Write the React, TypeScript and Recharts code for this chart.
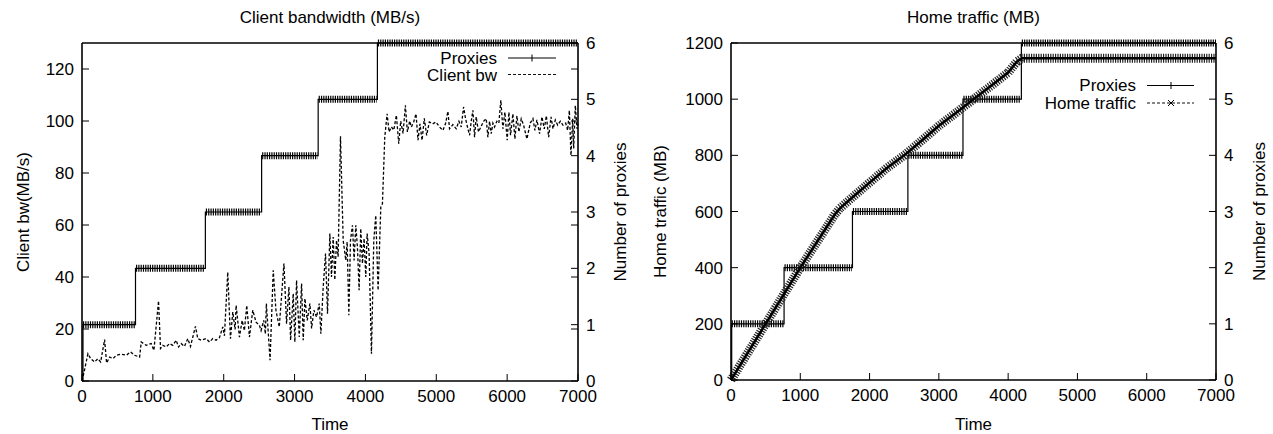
import React from 'react';
import { ComposedChart, Line, XAxis, YAxis, Customized } from 'recharts';

// ─── Data ─────────────────────────────────────────────────────────────────────

const timeTicks = [0, 1000, 2000, 3000, 4000, 5000, 6000, 7000];
const bwTicks = [0, 20, 40, 60, 80, 100, 120];
const trafficTicks = [0, 200, 400, 600, 800, 1000, 1200];
const proxyTicks = [0, 1, 2, 3, 4, 5, 6];

// left panel: number of proxies (step changes) and the marker runs on each level
const bwProxyTimes = [0, 14, 755, 1741, 2535, 3333, 4169, 7000];
const bwProxyCounts = [0, 1, 2, 3, 4, 5, 6, 6];
const bwRunStart = [14, 762, 1748, 2542, 3340, 4176];
const bwRunEnd = [745, 1735, 2528, 3326, 4160, 7000];
const bwRunLevel = [1, 2, 3, 4, 5, 6];

// left panel: client bandwidth (MB/s)
const bwTimes = [
  0, 10, 84, 122, 178, 225, 263, 319, 347, 390, 437, 484, 554, 625, 686, 742, 813, 836, 907, 977,
  1015, 1080, 1108, 1141, 1188, 1235, 1282, 1329, 1362, 1399, 1446, 1493, 1531, 1601, 1634, 1681,
  1752, 1799, 1846, 1893, 1940, 1987, 2010, 2057, 2095, 2128, 2161, 2175, 2222, 2260, 2292, 2325,
  2363, 2410, 2457, 2504, 2527, 2565, 2588, 2602, 2654, 2699, 2737, 2784, 2850, 2887, 2920, 2944,
  2981, 3004, 3028, 3066, 3099, 3122, 3146, 3179, 3216, 3240, 3273, 3310, 3348, 3371, 3404, 3437,
  3465, 3498, 3521, 3545, 3568, 3592, 3615, 3648, 3686, 3723, 3742, 3766, 3789, 3817, 3840, 3864,
  3887, 3911, 3934, 3958, 3981, 4005, 4024, 4052, 4085, 4118, 4146, 4179, 4217, 4240, 4273, 4306,
  4334, 4367, 4400, 4437, 4470, 4498, 4531, 4564, 4592, 4625, 4648, 4681, 4714, 4742, 4770, 4799,
  4831, 4864, 4902, 4949, 4996, 5046, 5093, 5131, 5164, 5187, 5234, 5281, 5319, 5352, 5385, 5413,
  5446, 5470, 5493, 5517, 5540, 5563, 5596, 5629, 5667, 5705, 5728, 5752, 5775, 5799, 5822, 5855,
  5883, 5911, 5940, 5968, 6001, 6025, 6048, 6081, 6110, 6138, 6166, 6199, 6232, 6279, 6326, 6364,
  6392, 6420, 6458, 6491, 6524, 6553, 6586, 6619, 6647, 6680, 6713, 6751, 6788, 6826, 6854, 6878,
  6901, 6925, 6939, 6962, 6986, 7000,
];
const bwValues = [
  0, 1, 10.5, 8.6, 7.3, 8.6, 7.3, 15.9, 6.9, 9.2, 8.6, 9.9, 10.3, 9.9, 11.2, 9.9, 9.2, 15, 13.7, 14.4,
  11.8, 30.8, 12.5, 13.7, 13.1, 14.4, 13.7, 15.7, 13.1, 14.4, 13.3, 16.3, 13.3, 21, 16.3, 15.7,
  16.3, 15, 16.3, 15.7, 16.7, 20.8, 17.4, 41.9, 16.3, 26.5, 19.8, 29.1, 16.9, 23.3, 19.4, 29.1,
  16.9, 27.2, 22.6, 21.4, 19.4, 23.3, 18.1, 29.8, 8, 42.6, 27.2, 20.8, 45.2, 22, 36.2, 15.7,
  33.6, 15, 38.7, 16.9, 37.5, 15.7, 31.7, 23.3, 29.8, 20.2, 27.2, 24.6, 29.8, 18.2, 36.2, 49,
  25.9, 56.7, 40, 55.4, 38.9, 54.1, 47.8, 94.1, 54.1, 46.4, 53.5, 25.3, 54.1, 59.9, 46.4, 59.9,
  51.5, 34.9, 58.6, 45.2, 54.8, 40, 56.7, 49, 10.5, 54.1, 63.7, 34.9, 66.9, 68.2, 93.8, 102.8,
  95.8, 97.7, 96.5, 102.2, 91.3, 100, 95.2, 106, 95.8, 100, 97.7, 99.6, 102.8, 92.6, 98.9, 92.6,
  101, 94.5, 99.6, 98.9, 99.6, 97.7, 96.4, 99, 103.7, 97, 98.6, 97, 99.9, 97.7, 105.4, 100.9,
  97, 94.5, 99.9, 104.1, 93.8, 101.6, 95.8, 97.7, 99.9, 100.9, 93.8, 99.9, 95.1, 99.2, 97.7, 99.9,
  99.2, 108, 97, 103.4, 92.6, 103.4, 94.5, 102.8, 93.1, 102, 95.8, 100.9, 98.4, 93.1, 99.2, 100.9,
  96.4, 100.4, 95.1, 101.6, 97, 102, 93.8, 101.6, 97, 100.4, 98.4, 99.9, 98.4, 99.2, 96.4, 104.1,
  86.8, 100.9, 89.4, 106, 97, 99,
];

// right panel: number of proxies (step changes) and the marker runs on each level
const htProxyTimes = [0, 10, 766, 1753, 2553, 3348, 4191, 7000];
const htProxyCounts = [0, 1, 2, 3, 4, 5, 6, 6];
const htRunStart = [10, 772, 1759, 2559, 3354, 4197];
const htRunEnd = [758, 1745, 2545, 3340, 4183, 7000];
const htRunLevel = [1, 2, 3, 4, 5, 6];

// right panel: cumulative home traffic (MB)
const trafficTimes = [0, 250, 500, 750, 1000, 1250, 1500, 1575, 1750, 2000, 2250, 2500, 2750, 3000, 3250, 3500, 3750, 4000, 4128, 4200, 7000];
const trafficValues = [0, 100, 200, 300, 400, 495, 590, 612, 650, 703, 755, 800, 852, 905, 952, 1000, 1047, 1095, 1134, 1146, 1146];

// ─── Helpers ──────────────────────────────────────────────────────────────────

const FONT = '"Liberation Sans", Arial, Helvetica, sans-serif';
const FS = 17;
const TICK = 7;

const steps = (times: number[], counts: number[]) => times.map((t, i) => ({ t, p: counts[i] }));

const runs = (start: number[], end: number[], level: number[]) =>
  start.flatMap((s, i) => [
    { t: s, p: level[i] },
    { t: end[i], p: level[i] },
    { t: end[i], p: null },
  ]);

const bwProxyData = steps(bwProxyTimes, bwProxyCounts);
const bwRunData = runs(bwRunStart, bwRunEnd, bwRunLevel);
const bwData = bwTimes.map((t, i) => ({ t, v: bwValues[i] }));
const htProxyData = steps(htProxyTimes, htProxyCounts);
const htRunData = runs(htRunStart, htRunEnd, htRunLevel);
const trafficData = trafficTimes.map((t, i) => ({ t, v: trafficValues[i] }));

// left-axis ticks are mirrored on the right border of the bandwidth panel
const bwRightTicks = [...proxyTicks, ...bwTicks.filter((v) => v > 0).map((v) => (v * 6) / 130)];

// ─── Tick renderers (gnuplot style: ticks point inward) ───────────────────────

const LeftTick = ({ x, y, payload }: any) => (
  <g>
    <line x1={x} y1={y} x2={x + TICK} y2={y} stroke="#000" />
    <text x={x - 8} y={y + 6} textAnchor="end" fontSize={FS} fontFamily={FONT} fill="#000">
      {payload.value}
    </text>
  </g>
);

const RightTick = ({ x, y, payload }: any) => (
  <g>
    <line x1={x} y1={y} x2={x - TICK} y2={y} stroke="#000" />
    {Number.isInteger(payload.value) && (
      <text x={x + 8} y={y + 6} textAnchor="start" fontSize={FS} fontFamily={FONT} fill="#000">
        {payload.value}
      </text>
    )}
  </g>
);

const BottomTick = ({ x, y, payload }: any) => (
  <g>
    <line x1={x} y1={y} x2={x} y2={y - TICK} stroke="#000" />
    <text x={x} y={y + 20.5} textAnchor="middle" fontSize={FS} fontFamily={FONT} fill="#000">
      {payload.value}
    </text>
  </g>
);

const TopTick = ({ x, y }: any) => <line x1={x} y1={y} x2={x} y2={y + TICK} stroke="#000" />;

const vLabel = (text: string, dx: number) => (props: any) => {
  const vb = props.viewBox;
  if (!vb) return null;
  const x = vb.x + dx;
  const y = vb.y + vb.height / 2;
  return (
    <text x={x} y={y} transform={`rotate(-90, ${x}, ${y})`} textAnchor="middle" fontSize={FS} fontFamily={FONT} fill="#000">
      {text}
    </text>
  );
};

const hLabel = (text: string, dy: number) => (props: any) => {
  const vb = props.viewBox;
  if (!vb) return null;
  return (
    <text x={vb.x + vb.width / 2} y={vb.y + dy} textAnchor="middle" fontSize={FS} fontFamily={FONT} fill="#000">
      {text}
    </text>
  );
};

// ─── Legends ──────────────────────────────────────────────────────────────────

const BwLegend = () => (
  <g fontFamily={FONT} fontSize={FS} fill="#000">
    <text x={497} y={63.5} textAnchor="end">Proxies</text>
    <line x1={508} y1={58} x2={556} y2={58} stroke="#000" />
    <line x1={532} y1={54.5} x2={532} y2={61.5} stroke="#000" />
    <text x={497} y={81} textAnchor="end">Client bw</text>
    <line x1={508} y1={74.5} x2={556} y2={74.5} stroke="#111" strokeWidth={1.2} strokeDasharray="3 2" />
  </g>
);

const HtLegend = () => (
  <g fontFamily={FONT} fontSize={FS} fill="#000">
    <text x={496} y={91} textAnchor="end">Proxies</text>
    <line x1={507} y1={85.5} x2={554} y2={85.5} stroke="#000" />
    <line x1={531} y1={82} x2={531} y2={89} stroke="#000" />
    <text x={496} y={108.5} textAnchor="end">Home traffic</text>
    <line x1={507} y1={103} x2={554} y2={103} stroke="#111" strokeWidth={1.2} strokeDasharray="3 2" />
    <path d="M528,100 L534,106 M528,106 L534,100" stroke="#000" />
  </g>
);

// ─── Panels ───────────────────────────────────────────────────────────────────

const axisLine = { stroke: '#000', strokeWidth: 1.6 };

const BandwidthPanel = () => (
  <ComposedChart width={640} height={434} margin={{ top: 42, right: 0, bottom: 0, left: 0 }}>
    <XAxis
      dataKey="t"
      type="number"
      domain={[0, 7000]}
      ticks={timeTicks}
      interval={0}
      height={53}
      axisLine={axisLine}
      tickLine={false}
      tickSize={0}
      tickMargin={0}
      tick={BottomTick}
      label={hLabel('Time', 49)}
    />
    <XAxis
      xAxisId="top"
      orientation="top"
      dataKey="t"
      type="number"
      domain={[0, 7000]}
      ticks={timeTicks}
      interval={0}
      height={1}
      axisLine={axisLine}
      tickLine={false}
      tickSize={0}
      tickMargin={0}
      tick={TopTick}
      label={hLabel('Client bandwidth (MB/s)', -19)}
    />
    <YAxis
      yAxisId="bw"
      type="number"
      domain={[0, 130]}
      ticks={bwTicks}
      interval={0}
      width={82}
      axisLine={axisLine}
      tickLine={false}
      tickSize={0}
      tickMargin={0}
      tick={LeftTick}
      label={vLabel('Client bw(MB/s)', 28.5)}
    />
    <YAxis
      yAxisId="proxies"
      orientation="right"
      type="number"
      domain={[0, 6]}
      ticks={bwRightTicks}
      interval={0}
      width={62}
      axisLine={axisLine}
      tickLine={false}
      tickSize={0}
      tickMargin={0}
      tick={RightTick}
      label={vLabel('Number of proxies', 48)}
    />
    <Line
      data={bwRunData}
      yAxisId="proxies"
      dataKey="p"
      stroke="#000"
      strokeWidth={7}
      strokeDasharray="1.2 1.1"
      dot={false}
      activeDot={false}
      connectNulls={false}
      isAnimationActive={false}
    />
    <Line
      data={bwProxyData}
      yAxisId="proxies"
      dataKey="p"
      type="stepAfter"
      stroke="#000"
      strokeWidth={1.2}
      dot={false}
      activeDot={false}
      isAnimationActive={false}
    />
    <Line
      data={bwData}
      yAxisId="bw"
      dataKey="v"
      stroke="#000"
      strokeWidth={1.3}
      strokeDasharray="3 2"
      dot={false}
      activeDot={false}
      isAnimationActive={false}
    />
    <Customized component={BwLegend} />
  </ComposedChart>
);

const TrafficPanel = () => (
  <ComposedChart width={633} height={434} margin={{ top: 42, right: 0, bottom: 0, left: 0 }}>
    <XAxis
      dataKey="t"
      type="number"
      domain={[0, 7000]}
      ticks={timeTicks}
      interval={0}
      height={54}
      axisLine={axisLine}
      tickLine={false}
      tickSize={0}
      tickMargin={0}
      tick={BottomTick}
      label={hLabel('Time', 50)}
    />
    <XAxis
      xAxisId="top"
      orientation="top"
      dataKey="t"
      type="number"
      domain={[0, 7000]}
      ticks={timeTicks}
      interval={0}
      height={1}
      axisLine={axisLine}
      tickLine={false}
      tickSize={0}
      tickMargin={0}
      tick={TopTick}
      label={hLabel('Home traffic (MB)', -19)}
    />
    <YAxis
      yAxisId="mb"
      type="number"
      domain={[0, 1200]}
      ticks={trafficTicks}
      interval={0}
      width={91}
      axisLine={axisLine}
      tickLine={false}
      tickSize={0}
      tickMargin={0}
      tick={LeftTick}
      label={vLabel('Home traffic (MB)', 26.3)}
    />
    <YAxis
      yAxisId="proxies"
      orientation="right"
      type="number"
      domain={[0, 6]}
      ticks={proxyTicks}
      interval={0}
      width={57}
      axisLine={axisLine}
      tickLine={false}
      tickSize={0}
      tickMargin={0}
      tick={RightTick}
      label={vLabel('Number of proxies', 48.7)}
    />
    <Line
      data={htRunData}
      yAxisId="proxies"
      dataKey="p"
      stroke="#000"
      strokeWidth={7}
      strokeDasharray="1.2 1.1"
      dot={false}
      activeDot={false}
      connectNulls={false}
      isAnimationActive={false}
    />
    <Line
      data={htProxyData}
      yAxisId="proxies"
      dataKey="p"
      type="stepAfter"
      stroke="#000"
      strokeWidth={1.2}
      dot={false}
      activeDot={false}
      isAnimationActive={false}
    />
    <Line
      data={trafficData}
      yAxisId="mb"
      dataKey="v"
      stroke="#222"
      strokeWidth={9}
      strokeDasharray="1.2 1.2"
      dot={false}
      activeDot={false}
      isAnimationActive={false}
    />
    <Line
      data={trafficData}
      yAxisId="mb"
      dataKey="v"
      stroke="#000"
      strokeWidth={2.5}
      dot={false}
      activeDot={false}
      isAnimationActive={false}
    />
    <Customized component={HtLegend} />
  </ComposedChart>
);

export default function App() {
  return (
    <div style={{ position: 'absolute', left: 0, top: 0, width: 1273, height: 434, background: '#fff', overflow: 'hidden' }}>
      <div style={{ position: 'absolute', left: 0, top: 0 }}>
        <BandwidthPanel />
      </div>
      <div style={{ position: 'absolute', left: 640, top: 0 }}>
        <TrafficPanel />
      </div>
    </div>
  );
}
